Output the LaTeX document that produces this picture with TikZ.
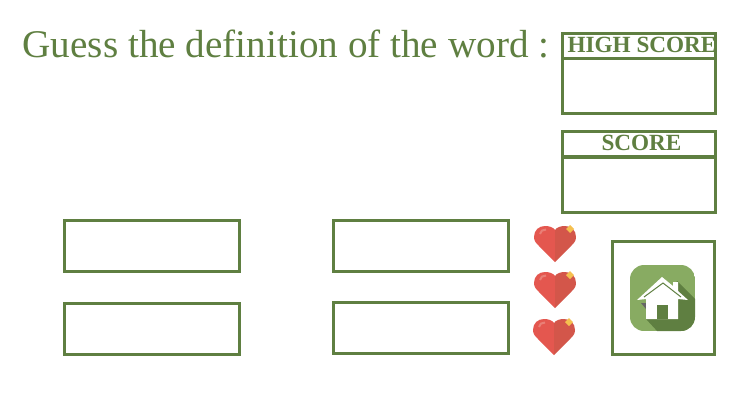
\documentclass[tikz,border=0pt]{standalone}
\usepackage{fontspec}
\setmainfont{Liberation Serif}
\definecolor{framegreen}{HTML}{5F7F41}
\definecolor{icongreen}{HTML}{88AB62}
\definecolor{heartleft}{HTML}{E4574F}
\definecolor{heartright}{HTML}{D3564A}
\definecolor{heartglow}{HTML}{E97F76}
\definecolor{heartstar}{HTML}{F5C04F}
\tikzset{
    framebox/.style={draw=framegreen, line width=0.06cm, inner sep=0pt, minimum width=#1*0.02cm},
    answerbox/.style={framebox=175, minimum height=1.02cm},
    headbox/.style={framebox=153, minimum height=0.5cm},
    valuebox/.style={framebox=153, minimum height=1.1cm},
    wordtext/.style={text=framegreen, inner sep=0pt, anchor=base},
    heart/.pic={
        \path[clip] (0,36) -- (-16,20) .. controls (-19,17) and (-21,15) .. (-21,11) .. controls (-21,4) and (-16,0) .. (-10,0) .. controls (-6,0) and (-2,1) .. (0,4) .. controls (2,1) and (6,0) .. (10,0) .. controls (16,0) and (21,4) .. (21,11) .. controls (21,15) and (19,17) .. (16,20) -- cycle;
        \fill[heartleft] (-22,-1) rectangle (0,37);
        \fill[heartright] (0,-1) rectangle (22,37);
        \draw[heartglow, line width=0.04cm] (-15,8) .. controls (-15,5) and (-12,3.5) .. (-9,3.5);
    },
    heartspark/.pic={
        \fill[heartstar] (0,-4) -- (2,-2) -- (4,0) -- (2,2) -- (0,4) -- (-2,2) -- (-4,0) -- (-2,-2) -- cycle;
    }
}
\begin{document}
\begin{tikzpicture}[x=0.02cm, y=-0.02cm]
    \useasboundingbox (0,0) rectangle (750,400);
    \node[wordtext, font=\fontsize{22.3pt}{24pt}\selectfont] (title) at (286,57) {Guess the definition of the word :};

    \node[headbox] (highhead) at (639,46) {};
    \node[valuebox] (highvalue) at (639,86) {};
    \node[wordtext, font=\fontsize{13.2pt}{14pt}\selectfont\bfseries] (highlabel) at (642,52) {HIGH SCORE};
    \node[headbox] (scorehead) at (639,144) {};
    \node[valuebox] (scorevalue) at (639,184.5) {};
    \node[wordtext, font=\fontsize{13.2pt}{14pt}\selectfont\bfseries] (scorelabel) at (641.5,150) {SCORE};

    \node[answerbox] (answera) at (152,246) {};
    \node[answerbox] (answerb) at (421,246) {};
    \node[answerbox] (answerc) at (152,329) {};
    \node[answerbox] (answerd) at (421,328) {};

    % lives
    \pic (lifea) at (555,226) {heart};
    \pic (sparka) at (570,229) {heartspark};
    \pic (lifeb) at (555,272) {heart};
    \pic (sparkb) at (570,275) {heartspark};
    \pic (lifec) at (554,319) {heart};
    \pic (sparkc) at (569,322) {heartspark};

    % home button
    \node[framebox=102, minimum height=2.26cm] (homebox) at (663,298) {};
    \begin{scope}
        \path[clip, rounded corners=0.28cm] (630,265) rectangle (695,331);
        \fill[icongreen] (630,265) rectangle (695,331);
        \fill[framegreen] (677,281) -- (696,300) -- (696,332) -- (658,332) -- (646,319) -- (670,300) -- cycle;
        \fill[gray!80!black] (641,303) -- (646,303) -- (646,309) -- cycle;
    \end{scope}
    \fill[white] (662,277) -- (673,286) -- (673,282) -- (678,282) -- (678,291) -- (688,300) -- (678,299) -- (678,319) -- (646,319) -- (646,299) -- (637,300) -- cycle;
    \fill[framegreen] (657,305) rectangle (668,319);
    \draw[framegreen, line width=0.02cm] (644,297) -- (663,283) -- (681,297);
\end{tikzpicture}
\end{document}
